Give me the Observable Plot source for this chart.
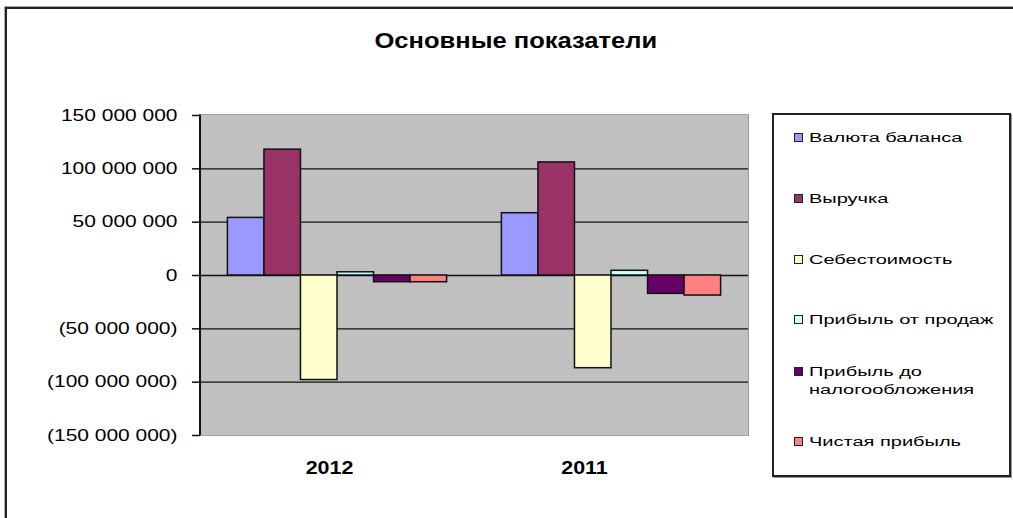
<!DOCTYPE html>
<html><head><meta charset="utf-8">
<script src="https://cdn.jsdelivr.net/npm/d3@7"></script>
<script src="https://cdn.jsdelivr.net/npm/@observablehq/plot@0.6"></script>
<style>
html,body{margin:0;padding:0;background:#fff;overflow:hidden;width:1013px;height:518px;}
#root{position:relative;width:1013px;height:518px;font-family:"Liberation Sans",Arial,sans-serif;color:#000;}
#frame{position:absolute;left:5px;top:7px;width:1100px;height:600px;border:2px solid #222;box-shadow:-1px -1px 0 #aaa;}
#area{position:absolute;left:199px;top:114px;width:550px;height:322px;background:#c0c0c0;box-sizing:border-box;
  border-top:1px solid #a0a0a0;border-right:1.5px solid #999;border-bottom:1px solid #a0a0a0;border-left:2px solid #111;}
#chart{position:absolute;left:0;top:0;}
#title{position:absolute;left:0;top:30px;width:1032px;text-align:center;font-weight:bold;font-size:22px;line-height:22px;}
#title span{display:inline-block;transform:scaleX(1.16);transform-origin:center;}
#legend{position:absolute;left:772px;top:113px;width:239px;height:364px;box-sizing:border-box;border:2px solid #222;box-shadow:1px 1px 0 #999;background:#fff;}
.item{position:absolute;left:0;width:400px;font-size:12.5px;line-height:18px;}
.sw{position:absolute;left:20px;width:7px;height:7px;border:1.5px solid #222;}
.lt{position:absolute;left:35px;white-space:nowrap;transform:scaleX(1.6);transform-origin:left center;}
</style></head>
<body><div id="root">
<div id="frame"></div>
<div id="area"></div>
<div id="chart"></div>
<div id="title"><span>Основные показатели</span></div>
<div id="legend"></div>
</div>
<script>
const years = ["2012", "2011"];
const series = ["Валюта баланса", "Выручка", "Себестоимость", "Прибыль от продаж", "Прибыль до налогообложения", "Чистая прибыль"];
const legendLabels = [["Валюта баланса"], ["Выручка"], ["Себестоимость"], ["Прибыль от продаж"], ["Прибыль до", "налогообложения"], ["Чистая прибыль"]];
const colors = ["#9999FF", "#993366", "#FFFFCC", "#CCFFFF", "#660066", "#FF8080"];
const values2012 = [54e6, 118e6, -98e6, 3e6, -6.3e6, -6.3e6];
const values2011 = [58.4e6, 106e6, -86.9e6, 4.4e6, -17.2e6, -18.8e6];
const yTicks = [-150e6, -100e6, -50e6, 0, 50e6, 100e6, 150e6];
const gridTicks = [-100e6, -50e6, 0, 50e6, 100e6];

const valuesByYear = {"2012": values2012, "2011": values2011};
const data = [];
years.forEach(yr => series.forEach((s, j) => data.push({year: yr, series: s, value: valuesByYear[yr][j]})));

const num = d3.format(",");
const fmt = v => v === 0 ? "0" : v < 0 ? "(" + num(-v).replace(/,/g, " ") + ")" : num(v).replace(/,/g, " ");

const chart = Plot.plot({
  width: 760, height: 500,
  marginLeft: 200, marginRight: 12, marginTop: 115, marginBottom: 65,
  style: {background: "transparent", fontFamily: "'Liberation Sans', Arial, sans-serif", fontSize: "16px", color: "#000", overflow: "visible"},
  fx: {domain: years, padding: 0, axis: null, round: false, label: null},
  x: {domain: series, paddingInner: 0, paddingOuter: 0.75, axis: null, round: false},
  y: {domain: [-150e6, 150e6], axis: null, label: null},
  color: {domain: series, range: colors},
  marks: [
    Plot.ruleY(gridTicks, {stroke: "#111", strokeWidth: 1.4}),
    Plot.barY(data, {fx: "year", x: "series", y: "value", fill: "series", stroke: "#111", strokeWidth: 1.5, inset: 0}),
    Plot.axisY(yTicks, {label: null, tickSize: 8, tickPadding: 15, tickFormat: fmt, stroke: "#111", strokeWidth: 1.5, fontSize: 16}),
    Plot.axisFx({anchor: "bottom", label: null, ticks: [years[0]], tickSize: 0, tickPadding: 25, dx: -8, fontWeight: "bold", fontSize: 19}),
    Plot.axisFx({anchor: "bottom", label: null, ticks: [years[1]], tickSize: 0, tickPadding: 25, dx: -27, fontWeight: "bold", fontSize: 19})
  ]
});
document.getElementById("chart").appendChild(chart);

// horizontally widen the axis labels like the original rendering
chart.querySelectorAll("g[aria-label]").forEach(g => {
  const lab = g.getAttribute("aria-label");
  let k = null;
  if (lab.startsWith("y-axis tick label")) k = 1.31;
  if (lab.startsWith("fx-axis tick label")) k = 1.13;
  if (!k) return;
  g.querySelectorAll("text").forEach(t => {
    const w = t.getComputedTextLength();
    t.setAttribute("textLength", w * k);
    t.setAttribute("lengthAdjust", "spacingAndGlyphs");
  });
});

// legend
const legend = document.getElementById("legend");
const firstCenter = 136 - 113, step = 60.8;
series.forEach((s, i) => {
  const lines = legendLabels[i];
  const center = firstCenter + i * step;
  const lh = 18;
  const top0 = center - lines.length * lh / 2;
  const item = document.createElement("div");
  item.className = "item";
  item.style.top = top0 + "px";
  const sw = document.createElement("div");
  sw.className = "sw";
  sw.style.top = (lh / 2 - 5) + "px";
  sw.style.background = colors[i];
  item.appendChild(sw);
  lines.forEach((ln, k) => {
    const t = document.createElement("div");
    t.className = "lt";
    t.style.top = (k * lh) + "px";
    t.textContent = ln;
    item.appendChild(t);
  });
  legend.appendChild(item);
});
</script>
</body></html>
